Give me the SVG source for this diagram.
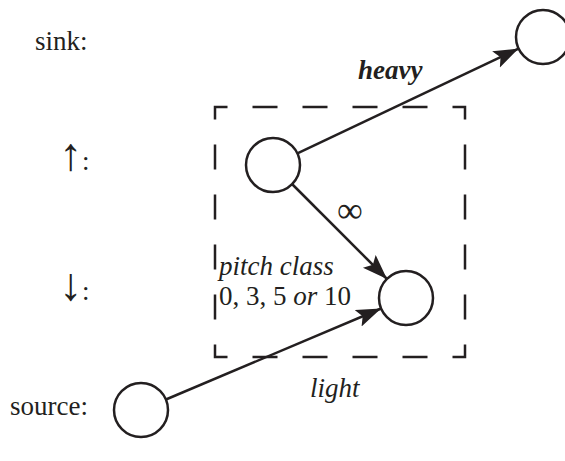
<svg xmlns="http://www.w3.org/2000/svg" width="565" height="461" viewBox="0 0 565 461">
<style>
text{font-family:"Liberation Serif","Times New Roman",serif;font-size:27px;fill:#231f20}
.it{font-style:italic}
.bi{font-style:italic;font-weight:bold}
.ar{font-size:46px}
.node{fill:#fff;stroke:#231f20;stroke-width:2.5}
.edge{stroke:#231f20;stroke-width:2.5;fill:none}
</style>
<defs>
<marker id="ah" markerUnits="userSpaceOnUse" markerWidth="28" markerHeight="20" refX="25" refY="9" orient="auto">
<path d="M0,0 L25,9 L0,18 L5,9 z" fill="#231f20"/>
</marker>
</defs>
<rect x="215" y="107" width="250" height="250" fill="none" stroke="#231f20" stroke-width="2.5" stroke-dasharray="25 25" stroke-dashoffset="12.5"/>
<g id="labels">
<text x="35" y="50">sink:</text>
<text x="59" y="170"><tspan class="ar">↑</tspan>:</text>
<text x="59" y="300"><tspan class="ar">↓</tspan>:</text>
<text x="10" y="415">source:</text>
</g>
<g id="connectors">
<line class="edge" x1="297.4" y1="153.4" x2="518.6" y2="48.6" marker-end="url(#ah)"/>
<line class="edge" x1="292" y1="184" x2="387" y2="279" marker-end="url(#ah)"/>
<line class="edge" x1="165.9" y1="399.5" x2="381.1" y2="308.5" marker-end="url(#ah)"/>
<text class="bi" x="358" y="79">heavy</text>
<text x="337" y="222" style="font-size:36px">∞</text>
<text class="it" x="310" y="397">light</text>
</g>
<g id="sink"><circle class="node" cx="543" cy="37" r="27"/></g>
<g id="up"><circle class="node" cx="273" cy="165" r="27"/></g>
<g id="down"><circle class="node" cx="406" cy="298" r="27"/>
<text class="it" x="219" y="275">pitch class</text>
<text x="219" y="305">0, 3, 5 <tspan class="it">or</tspan> 10</text>
</g>
<g id="source"><circle class="node" cx="141" cy="410" r="27"/></g>
</svg>
